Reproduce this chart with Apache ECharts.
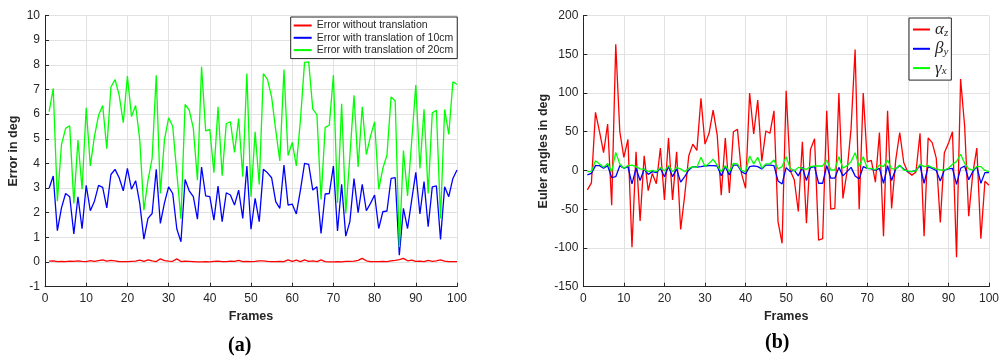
<!DOCTYPE html>
<html>
<head>
<meta charset="utf-8">
<script src="https://cdn.jsdelivr.net/npm/echarts@6/dist/echarts.min.js"></script>
<style>
html,body{margin:0;padding:0;background:#fff;}
#chart{width:1002px;height:363px;}
</style>
</head>
<body>
<div id="chart"></div>
<script>
const frames = [1,2,3,4,5,6,7,8,9,10,11,12,13,14,15,16,17,18,19,20,21,22,23,24,25,26,27,28,29,30,31,32,33,34,35,36,37,38,39,40,41,42,43,44,45,46,47,48,49,50,51,52,53,54,55,56,57,58,59,60,61,62,63,64,65,66,67,68,69,70,71,72,73,74,75,76,77,78,79,80,81,82,83,84,85,86,87,88,89,90,91,92,93,94,95,96,97,98,99,100];

const errNoTrans = [0.04,0.05,0.02,0.03,0.02,0.04,0.03,0.05,0.03,0.02,0.06,0.03,0.06,0.09,0.04,0.07,0.05,0.02,0.02,0.02,0.03,0.04,0.08,0.03,0.09,0.05,0.02,0.13,0.06,0.04,0.03,0.13,0.02,0.04,0.03,0.02,0.01,0.01,0.02,0.01,0.03,0.04,0.02,0.02,0.04,0.03,0.07,0.02,0.03,0.02,0.03,0.05,0.05,0.03,0.02,0.02,0.03,0.02,0.09,0.03,0.08,0.02,0.09,0.03,0.05,0.02,0.09,0.02,0.01,0.01,0.02,0.01,0.03,0.03,0.04,0.07,0.15,0.05,0.02,0.02,0.02,0.03,0.02,0.05,0.07,0.10,0.15,0.05,0.08,0.03,0.04,0.02,0.07,0.03,0.05,0.09,0.04,0.02,0.02,0.02];

const err10cm = [2.99,3.49,1.27,2.2,2.78,2.65,1.14,2.65,1.35,3.11,2.08,2.47,3.11,3.03,2.2,3.55,3.76,3.42,2.89,3.8,2.95,3.3,2.38,0.93,1.77,1.97,3.76,1.57,2.4,3.05,2.78,1.34,0.82,3.35,2.89,2.65,1.74,3.85,2.68,2.65,1.7,3.08,1.64,2.81,2.72,2.31,2.92,1.77,3.89,1.33,2.58,1.64,3.76,3.62,3.42,2.45,2.18,3.93,2.31,2.35,1.95,2.92,4.0,3.96,2.92,3.05,1.16,2.76,2.78,3.89,1.26,3.15,1.05,1.64,3.39,2.0,3.15,2.08,2.38,2.72,1.36,2.04,2.07,3.39,3.42,0.28,2.18,1.36,2.51,3.64,1.95,3.26,1.43,3.05,3.09,0.92,3.05,2.65,3.39,3.73];

const err20cm = [6.1,7.04,2.47,4.76,5.42,5.53,2.38,4.95,2.95,6.26,3.9,5.1,5.95,6.35,4.6,7.1,7.4,6.77,5.65,7.54,5.9,6.35,4.95,2.1,3.32,4.2,7.58,2.78,4.97,5.85,5.51,3.6,1.75,6.39,6.16,5.42,3.32,7.92,5.32,5.38,3.62,6.3,3.5,5.62,5.69,4.45,5.82,3.46,7.65,2.65,5.28,3.15,7.64,7.41,6.7,5.35,4.1,7.81,4.32,4.85,3.9,5.76,8.1,8.12,6.2,5.98,2.54,5.46,5.55,7.58,2.4,6.42,1.97,4.3,6.76,3.86,6.3,4.36,5.1,5.69,2.95,3.8,4.34,6.7,6.53,0.6,4.52,2.68,4.9,7.18,3.8,6.2,2.78,6.05,6.16,1.77,6.19,5.18,7.31,7.2];

const alphaZ = [-25,-16,75,50,23,60,-45,163,50,17,40,-99,24,-65,19,-26,-4,-17,29,-38,42,-38,24,-76,-32,19,34,26,93,34,48,78,46,-32,42,-29,50,53,-4,-23,100,47,91,12,51,48,77,-66,-94,103,0,-12,-53,37,-68,27,41,-90,-88,77,-50,-49,100,-36,-2,54,156,-50,100,11,13,-15,49,-85,77,-49,13,49,10,-2,-6,-2,48,-85,42,36,16,-67,23,35,50,-112,118,57,-59,-4,29,-88,-14,-19];

const betaY = [-5.8,-3.7,6.2,6.2,2.8,6.2,-9.2,-8,6.2,2.8,5,-17.4,2.8,-13,2,-5,-1.5,-2.8,2.8,-8,5,-8,2,-15,-8,0.6,5,4.5,5,5.8,6.2,6.2,5.8,-6.7,5,-5.8,7,7,-1.5,-4.5,5,5.8,5,2,7,7,6.2,-13.5,-17.4,3.7,-1.5,0.6,-7,4,-13,3.7,5,-16.5,-16.5,6.2,-10,-10,4,-7,-1.5,4,-7,-11,5,2.8,2,0,2.8,-16.5,6.2,-13,2,6.2,2,-1.5,-1.5,0,6.2,-16.5,5,2.8,0,-13.5,0.6,2,2.8,-18,2.8,5.8,-12,-1.5,5,-16.5,-2.8,-2.8];

const gammaX = [-1.5,-1.5,12.7,8.4,4,9.2,-1.5,23.4,8.4,2.8,6.2,7,5,2,1.5,-1.5,0,-1.5,3.7,-0.6,6.2,-1.5,3.7,2,-1.5,2.8,5,4,17,5,9.2,14.4,7,-1.5,6.2,-1.5,9.2,8.4,0,-1.5,18.7,8.4,17,2.8,8.4,8.4,13.5,2,5,17.8,2.8,-0.6,4,2.8,1.5,5,5.8,5.8,5.8,13.5,0.6,0.6,17.8,2.8,6.2,11.4,23,5,17.8,2.8,2.8,0.6,7,5,13.5,2,2,7,0.6,-0.6,-1.5,-0.6,8,5,6.2,4,2,0.6,0.6,2.8,8,11.4,21,9.2,2,0.6,5,5,0,-1.5];

const leftLegend = ['Error without translation','Error with translation of 10cm','Error with translation of 20cm'];
const rightLegend = ['alpha_z','beta_y','gamma_x'];
const greek = {alpha_z:['α','z'], beta_y:['β','y'], gamma_x:['γ','x']};

const pairs = arr => frames.map((f, i) => [f, arr[i]]);

const FONT = 'Liberation Sans';
const DARK = '#262626';

function xAx(gi){
  return {
    type:'value', gridIndex:gi, min:0, max:100, interval:10,
    name:'Frames', nameLocation:'middle', nameGap:21,
    nameTextStyle:{color:DARK, fontFamily:FONT, fontWeight:'bold', fontSize:12.5},
    axisLine:{show:true, onZero:false, lineStyle:{color:DARK, width:1}},
    axisTick:{show:true, inside:true, length:4, lineStyle:{color:DARK}},
    axisLabel:{color:DARK, fontFamily:FONT, fontSize:12, margin:6},
    splitLine:{show:true, lineStyle:{color:'#e2e2e2', width:1}}
  };
}
function yAx(gi, min, max, interval, name, gap){
  return {
    type:'value', gridIndex:gi, min:min, max:max, interval:interval,
    name:name, nameLocation:'middle', nameGap:gap, nameRotate:90,
    nameTextStyle:{color:DARK, fontFamily:FONT, fontWeight:'bold', fontSize:12.5},
    axisLine:{show:true, onZero:false, lineStyle:{color:DARK, width:1}},
    axisTick:{show:true, inside:true, length:4, lineStyle:{color:DARK}},
    axisLabel:{color:DARK, fontFamily:FONT, fontSize:12, margin:5},
    splitLine:{show:true, lineStyle:{color:'#e2e2e2', width:1}}
  };
}
function ser(name, data, color, xi){
  return {
    type:'line', name:name, xAxisIndex:xi, yAxisIndex:xi, data:pairs(data),
    symbol:'none', showSymbol:false, animation:false,
    lineStyle:{color:color, width:1.3}, itemStyle:{color:color}
  };
}

const chart = echarts.init(document.getElementById('chart'), null, {renderer:'canvas'});
chart.setOption({
  animation:false,
  backgroundColor:'#ffffff',
  grid:[
    {left:45, top:15.5, width:412, height:271.2},
    {left:583.3, top:15.5, width:411, height:271.2}
  ],
  xAxis:[xAx(0), xAx(1)],
  yAxis:[
    yAx(0, -1, 10, 1, 'Error in deg', 25),
    yAx(1, -150, 200, 50, 'Euler angles in deg', 32)
  ],
  legend:[
    {
      data:leftLegend, orient:'vertical', left:290.7, top:17,
      backgroundColor:'#ffffff', borderColor:DARK, borderWidth:1,
      padding:[3,4,3,2], itemGap:1.3, itemWidth:18, itemHeight:12,
      itemStyle:{opacity:0},
      textStyle:{color:DARK, fontFamily:FONT, fontSize:10.5},
      selectedMode:false
    },
    {
      data:rightLegend, orient:'vertical', left:909, top:18,
      backgroundColor:'#ffffff', borderColor:DARK, borderWidth:1,
      padding:[3,3,3,3], itemGap:1.8, itemWidth:17, itemHeight:18,
      itemStyle:{opacity:0},
      selectedMode:false,
      formatter: n => '{g|' + greek[n][0] + '}{s|' + greek[n][1] + '}',
      textStyle:{
        color:DARK,
        rich:{
          g:{fontFamily:'Liberation Serif', fontStyle:'italic', fontSize:17, color:DARK, lineHeight:18},
          s:{fontFamily:'Liberation Serif', fontStyle:'italic', fontSize:11, color:DARK, lineHeight:18, verticalAlign:'bottom', padding:[4,0,0,0]}
        }
      }
    }
  ],
  series:[
    ser(leftLegend[0], errNoTrans, '#ff0000', 0),
    ser(leftLegend[1], err10cm, '#0000ff', 0),
    ser(leftLegend[2], err20cm, '#00ff00', 0),
    ser(rightLegend[0], alphaZ, '#ff0000', 1),
    ser(rightLegend[1], betaY, '#0000ff', 1),
    ser(rightLegend[2], gammaX, '#00ff00', 1)
  ],
  graphic:[
    {type:'text', left:228, top:336, style:{text:'(a)', font:'bold 20px "Liberation Serif"', fill:'#000'}},
    {type:'text', left:765, top:333, style:{text:'(b)', font:'bold 20px "Liberation Serif"', fill:'#000'}}
  ]
});
</script>
</body>
</html>
